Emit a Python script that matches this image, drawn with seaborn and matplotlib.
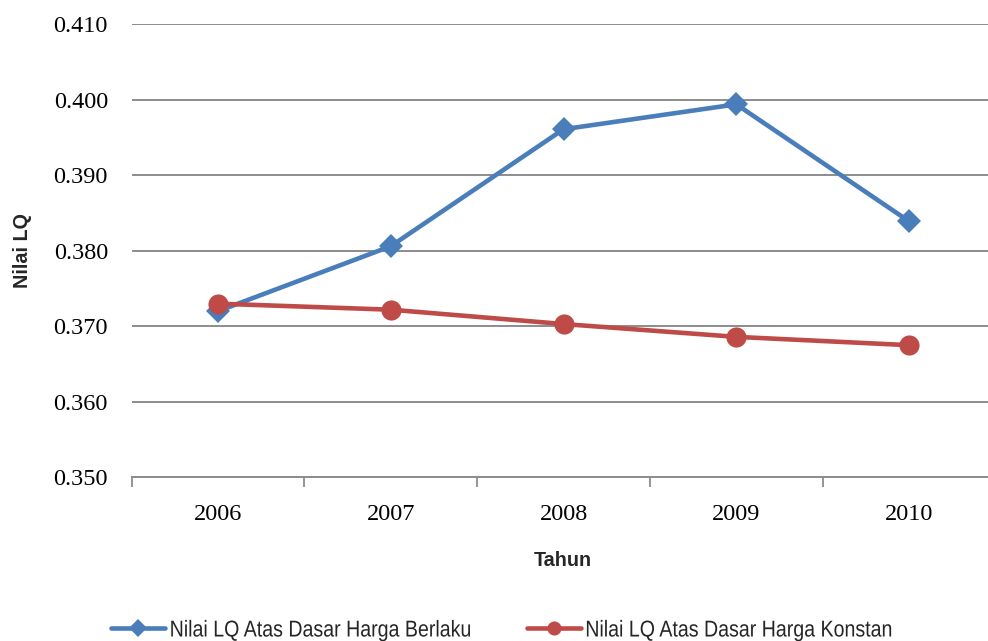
import matplotlib
matplotlib.use("Agg")
import matplotlib.pyplot as plt
import matplotlib.ticker as mticker
from matplotlib.patheffects import AbstractPathEffect
from matplotlib.transforms import Affine2D
import seaborn as sns
import pandas as pd

years = ["2006", "2007", "2008", "2009", "2010"]
lq_berlaku = [0.3720, 0.3806, 0.3961, 0.3994, 0.3839]
lq_konstan = [0.3730, 0.3722, 0.3703, 0.3686, 0.3675]
series_names = ["Nilai LQ Atas Dasar Harga Berlaku", "Nilai LQ Atas Dasar Harga Konstan"]
y_ticks = [0.350, 0.360, 0.370, 0.380, 0.390, 0.400, 0.410]

blue = "#4A7EBB"
red = "#BE4B48"
grid_grey = "#8C8C8C"


class Condensed(AbstractPathEffect):
    """Squeeze glyphs horizontally about the start of the text line."""

    def __init__(self, sx):
        super().__init__()
        self.sx = sx

    def draw_path(self, renderer, gc, tpath, affine, rgbFace=None):
        x0 = affine.transform((0, 0))[0]
        squeeze = Affine2D().translate(-x0, 0).scale(self.sx, 1).translate(x0, 0)
        renderer.draw_path(gc, tpath, affine + squeeze, rgbFace)


sns.set_theme(style="white")
plt.rcParams["font.family"] = ["Liberation Serif", "DejaVu Serif"]

df = pd.DataFrame({
    "pos": list(range(len(years))) * 2,
    "Tahun": years * 2,
    "LQ": lq_berlaku + lq_konstan,
    "Seri": [series_names[0]] * len(years) + [series_names[1]] * len(years),
})

fig = plt.figure(figsize=(9.88, 6.41), dpi=100)
ax = fig.add_axes([131.5 / 988, 163.7 / 641, 864 / 988, 453 / 641])

styles = {series_names[0]: (blue, "D", 12.5), series_names[1]: (red, "o", 14.5)}
for name in series_names:
    color, marker, ms = styles[name]
    sub = df[df["Seri"] == name]
    sns.lineplot(data=sub, x="pos", y="LQ", ax=ax, color=color, linewidth=3.3,
                 marker=marker, markersize=ms, markeredgewidth=0,
                 label=name, legend=False)

ax.set_xlim(-0.5, len(years) - 0.5)
ax.set_ylim(y_ticks[0], y_ticks[-1])
ax.set_yticks(y_ticks)
ax.yaxis.set_major_formatter(mticker.FormatStrFormatter("%.3f"))
ax.set_xticks(range(len(years)))
ax.set_xticklabels(years)
ax.set_xticks([i - 0.5 for i in range(len(years) + 1)], minor=True)

ax.tick_params(axis="y", length=0, pad=17, labelsize=17.5, labelcolor="#000000")
ax.tick_params(axis="x", which="major", length=0, pad=19, labelsize=17.5, labelcolor="#000000")
ax.tick_params(axis="x", which="minor", length=7, width=1.3, color=grid_grey, direction="out", bottom=True)

ax.grid(axis="y", color=grid_grey, linewidth=1.4)
ax.grid(axis="x", visible=False)
ax.set_axisbelow(True)
for side in ["left", "right", "top"]:
    ax.spines[side].set_visible(False)
ax.spines["bottom"].set_color(grid_grey)
ax.spines["bottom"].set_linewidth(1.4)

ax.set_xlabel("")
ax.set_ylabel("")
sans = ["Liberation Sans", "DejaVu Sans"]
fig.text(22 / 988, 1 - 251 / 641, "Nilai LQ", rotation=90, ha="center", va="center",
         fontsize=14.2, fontweight="bold", family=sans)
fig.text(563 / 988, 1 - 561 / 641, "Tahun", ha="center", va="center",
         fontsize=14.2, fontweight="bold", family=sans)

handles, labels = ax.get_legend_handles_labels()
leg = fig.legend(handles, labels, loc="center left", bbox_to_anchor=(111 / 988, 1 - 630 / 641),
                 ncol=2, frameon=False, handlelength=2.36, handletextpad=0.2,
                 columnspacing=0.2, markerscale=0.7, borderpad=0, borderaxespad=0,
                 prop={"family": sans, "size": 16.5})
for txt in leg.get_texts():
    txt.set_path_effects([Condensed(0.855)])

fig.savefig("out.png", dpi=100)
